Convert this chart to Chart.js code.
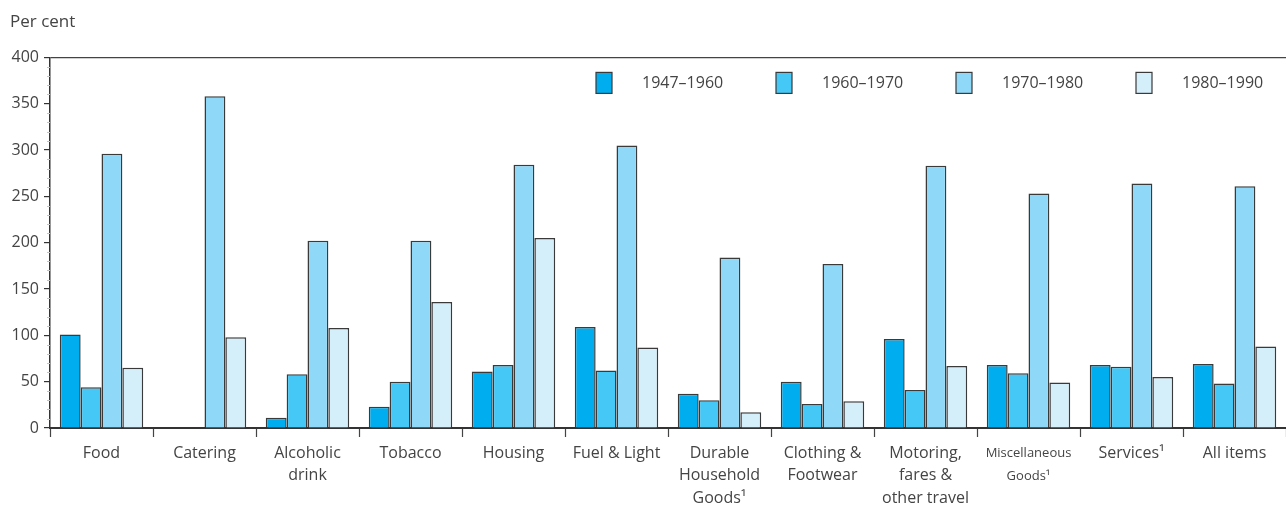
<!DOCTYPE html>
<html>
<head>
<meta charset="utf-8">
<script src="https://cdn.jsdelivr.net/npm/chart.js@4"></script>
<style>
  html, body { margin: 0; padding: 0; background: #fff; }
  #wrap { width: 1286px; height: 508px; }
</style>
</head>
<body>
<div id="wrap"><canvas id="chart"></canvas></div>
<script>
// categories (x axis), multi-line
const categories = [
  ['Food'],
  ['Catering'],
  ['Alcoholic', 'drink'],
  ['Tobacco'],
  ['Housing'],
  ['Fuel & Light'],
  ['Durable', 'Household', 'Goods¹'],
  ['Clothing &', 'Footwear'],
  ['Motoring,', 'fares &', 'other travel'],
  ['Miscellaneous', 'Goods¹'],
  ['Services¹'],
  ['All items']
]

const periods = ['1947–1960', '1960–1970', '1970–1980', '1980–1990']

// per cent increase for each period
const p1947 = [101, null, 11, 23, 61, 109, 37, 50, 96, 68, 68, 69]
const p1960 = [44, null, 58, 50, 68, 62, 30, 26, 41, 59, 66, 48]
const p1970 = [296, 358, 202, 202, 284, 305, 184, 177, 283, 253, 264, 261]
const p1980 = [65, 98, 108, 136, 205, 87, 17, 29, 67, 49, 55, 88]

const yTicks = [0, 50, 100, 150, 200, 250, 300, 350, 400]

const colours = ['#00aeef', '#45c8f5', '#8fd8f7', '#d4eefa']
const edge = '#3a3a3a'
const txt = '#444'
const fontFam = '"Open Sans", "DejaVu Sans", sans-serif'

const series = [p1947, p1960, p1970, p1980]

// legend drawn inside the plot, top right
const insideLegend = {
  id: 'insideLegend',
  afterDraw(chart) {
    const ctx = chart.ctx
    const area = chart.chartArea
    ctx.save()
    ctx.font = '16px ' + fontFam
    ctx.textBaseline = 'middle'
    const step = 180
    let x = area.right - 4 * step + 30
    const top = area.top + 15
    chart.data.datasets.forEach((ds) => {
      ctx.fillStyle = ds.backgroundColor
      ctx.fillRect(x, top, 16, 21)
      ctx.strokeStyle = edge
      ctx.lineWidth = 1.2
      ctx.strokeRect(x, top, 16, 21)
      ctx.fillStyle = txt
      ctx.fillText(ds.label, x + 46, top + 11)
      x += step
    })
    ctx.restore()
  }
}

// faint minor ticks every 10 on the y axis
const minorTicks = {
  id: 'minorTicks',
  afterDraw(chart) {
    const ctx = chart.ctx
    const y = chart.scales.y
    ctx.save()
    ctx.strokeStyle = '#c4c4c4'
    ctx.lineWidth = 1
    for (let v = 10; v < 400; v += 10) {
      if (v % 50 === 0) continue
      const py = Math.round(y.getPixelForValue(v)) + 0.5
      ctx.beginPath()
      ctx.moveTo(y.right - 3, py)
      ctx.lineTo(y.right, py)
      ctx.stroke()
    }
    ctx.restore()
  }
}

new Chart(document.getElementById('chart'), {
  type: 'bar',
  data: {
    labels: categories,
    datasets: series.map((vals, i) => ({
      label: periods[i],
      data: vals,
      backgroundColor: colours[i],
      borderColor: edge,
      borderWidth: 1.5,
      categoryPercentage: 0.81,
      barPercentage: 1
    }))
  },
  options: {
    responsive: true,
    maintainAspectRatio: false,
    animation: false,
    layout: { padding: { left: 10, right: 0, top: 0, bottom: 0 } },
    plugins: {
      legend: { display: false },
      tooltip: { enabled: false },
      title: {
        display: true,
        text: 'Per cent',
        align: 'start',
        color: txt,
        font: { family: fontFam, size: 17, weight: 'normal' },
        padding: { top: 12, bottom: 25 }
      }
    },
    scales: {
      x: {
        afterFit: (s) => { s.height = 80 },
        grid: {
          offset: true,
          drawOnChartArea: false,
          tickLength: 9,
          tickColor: '#444',
          tickWidth: 1.2
        },
        border: { display: true, color: '#333', width: 2 },
        ticks: {
          color: txt,
          padding: 5,
          maxRotation: 0,
          autoSkip: false,
          font: (c) => ({
            family: fontFam,
            size: c.index === 9 ? 13 : 16,
            lineHeight: c.index === 9 ? 1.75 : 1.4
          })
        }
      },
      y: {
        min: 0,
        max: 400,
        afterFit: (s) => { s.width = 40 },
        afterBuildTicks: (s) => { s.ticks = yTicks.map((v) => ({ value: v })) },
        grid: {
          color: (c) => (c.tick && c.tick.value === 400 ? '#444' : 'rgba(0,0,0,0)'),
          lineWidth: 1.2,
          tickLength: 6,
          tickColor: '#333',
          tickWidth: 1.2
        },
        border: { display: true, color: '#333', width: 1.5 },
        ticks: {
          color: txt,
          padding: 5,
          font: { family: fontFam, size: 16 }
        }
      }
    }
  },
  plugins: [insideLegend, minorTicks]
})
</script>
</body>
</html>
